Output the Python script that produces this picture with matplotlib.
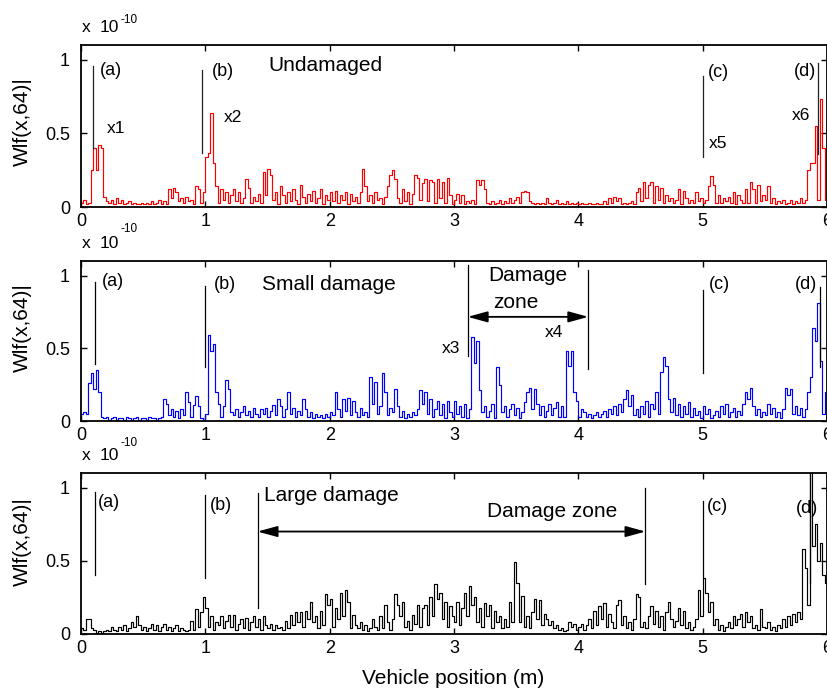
import numpy as np
import matplotlib
matplotlib.use('Agg')
import matplotlib.pyplot as plt

plt.rcParams['font.family'] = ['Liberation Sans', 'DejaVu Sans']

# ---------------- data (|Wf(x,64)| in units of 1e-10, sampled every 0.02 m) -------------
step = 0.02
undamaged = [
    0.03, 0.05, 0.02, 0.03, 0.25, 0.40, 0.25, 0.42, 0.40, 0.07, 0.04, 0.03, 0.05, 0.02, 0.06, 0.03, 0.05, 0.02, 0.03, 0.04, 0.02, 0.03, 0.02, 0.02, 0.03,
    0.02, 0.03, 0.02, 0.04, 0.02, 0.03, 0.05, 0.02, 0.04, 0.02, 0.12, 0.06, 0.13, 0.10, 0.04, 0.06, 0.03, 0.07, 0.04, 0.05, 0.02, 0.14, 0.12, 0.03, 0.10,
    0.34, 0.37, 0.64, 0.30, 0.14, 0.03, 0.12, 0.05, 0.10, 0.03, 0.08, 0.12, 0.04, 0.10, 0.03, 0.06, 0.19, 0.13, 0.03, 0.07, 0.04, 0.09, 0.03, 0.24, 0.08,
    0.26, 0.22, 0.05, 0.10, 0.02, 0.14, 0.08, 0.03, 0.10, 0.04, 0.12, 0.05, 0.02, 0.15, 0.07, 0.03, 0.09, 0.04, 0.11, 0.03, 0.06, 0.12, 0.02, 0.08, 0.05,
    0.10, 0.04, 0.11, 0.03, 0.08, 0.05, 0.10, 0.02, 0.09, 0.04, 0.07, 0.03, 0.10, 0.26, 0.14, 0.04, 0.08, 0.03, 0.10, 0.05, 0.06, 0.02, 0.07, 0.14, 0.22,
    0.25, 0.19, 0.06, 0.03, 0.12, 0.04, 0.10, 0.02, 0.09, 0.22, 0.20, 0.05, 0.16, 0.19, 0.04, 0.18, 0.17, 0.03, 0.19, 0.06, 0.17, 0.03, 0.20, 0.08, 0.02,
    0.05, 0.09, 0.03, 0.08, 0.02, 0.04, 0.03, 0.05, 0.02, 0.18, 0.15, 0.18, 0.12, 0.03, 0.02, 0.04, 0.02, 0.03, 0.05, 0.02, 0.04, 0.03, 0.06, 0.03, 0.05,
    0.07, 0.03, 0.10, 0.11, 0.10, 0.04, 0.03, 0.02, 0.03, 0.02, 0.03, 0.02, 0.06, 0.03, 0.02, 0.03, 0.05, 0.02, 0.03, 0.02, 0.04, 0.02, 0.03, 0.02, 0.03,
    0.02, 0.03, 0.02, 0.02, 0.03, 0.02, 0.02, 0.03, 0.02, 0.02, 0.04, 0.02, 0.06, 0.03, 0.07, 0.04, 0.06, 0.02, 0.03, 0.02, 0.03, 0.04, 0.02, 0.10, 0.13,
    0.04, 0.17, 0.06, 0.15, 0.17, 0.03, 0.14, 0.05, 0.13, 0.03, 0.08, 0.04, 0.06, 0.03, 0.05, 0.12, 0.02, 0.11, 0.06, 0.03, 0.05, 0.03, 0.10, 0.04, 0.06,
    0.03, 0.05, 0.14, 0.21, 0.15, 0.03, 0.08, 0.03, 0.06, 0.04, 0.07, 0.03, 0.10, 0.02, 0.08, 0.05, 0.03, 0.12, 0.03, 0.17, 0.12, 0.03, 0.15, 0.04, 0.08,
    0.05, 0.14, 0.03, 0.06, 0.02, 0.04, 0.03, 0.05, 0.02, 0.03, 0.05, 0.02, 0.04, 0.03, 0.06, 0.03, 0.05, 0.25, 0.30, 0.30, 0.55, 0.05, 0.73, 0.40, 0.05,
]
small_damage = [
    0.05, 0.06, 0.05, 0.26, 0.33, 0.22, 0.35, 0.20, 0.03, 0.02, 0.03, 0.01, 0.02, 0.03, 0.01, 0.02, 0.02, 0.01, 0.03, 0.02, 0.01, 0.02, 0.03, 0.01, 0.02,
    0.02, 0.01, 0.03, 0.02, 0.02, 0.01, 0.02, 0.03, 0.15, 0.12, 0.04, 0.08, 0.03, 0.07, 0.02, 0.08, 0.04, 0.20, 0.13, 0.03, 0.11, 0.17, 0.10, 0.02, 0.01,
    0.05, 0.59, 0.48, 0.53, 0.20, 0.12, 0.03, 0.10, 0.28, 0.22, 0.06, 0.04, 0.08, 0.03, 0.06, 0.10, 0.04, 0.07, 0.03, 0.09, 0.05, 0.03, 0.08, 0.05, 0.09,
    0.03, 0.07, 0.11, 0.04, 0.15, 0.10, 0.03, 0.08, 0.20, 0.05, 0.09, 0.03, 0.07, 0.04, 0.15, 0.08, 0.03, 0.06, 0.02, 0.05, 0.03, 0.04, 0.02, 0.05, 0.03,
    0.06, 0.04, 0.20, 0.08, 0.03, 0.15, 0.07, 0.16, 0.04, 0.14, 0.06, 0.03, 0.09, 0.04, 0.06, 0.03, 0.30, 0.12, 0.27, 0.05, 0.10, 0.33, 0.20, 0.04, 0.09,
    0.06, 0.22, 0.10, 0.03, 0.07, 0.02, 0.05, 0.03, 0.06, 0.04, 0.08, 0.21, 0.12, 0.20, 0.05, 0.15, 0.03, 0.08, 0.14, 0.04, 0.12, 0.02, 0.14, 0.06, 0.03,
    0.14, 0.05, 0.10, 0.03, 0.12, 0.02, 0.08, 0.58, 0.40, 0.55, 0.21, 0.06, 0.10, 0.03, 0.07, 0.12, 0.02, 0.37, 0.25, 0.06, 0.10, 0.03, 0.08, 0.12, 0.04,
    0.09, 0.02, 0.06, 0.13, 0.20, 0.23, 0.08, 0.22, 0.12, 0.04, 0.10, 0.03, 0.07, 0.12, 0.04, 0.09, 0.13, 0.03, 0.10, 0.03, 0.48, 0.38, 0.48, 0.20, 0.14,
    0.03, 0.08, 0.06, 0.03, 0.05, 0.02, 0.04, 0.06, 0.03, 0.05, 0.07, 0.03, 0.08, 0.05, 0.10, 0.04, 0.12, 0.06, 0.15, 0.21, 0.10, 0.18, 0.04, 0.08, 0.03,
    0.10, 0.05, 0.14, 0.03, 0.12, 0.08, 0.20, 0.05, 0.34, 0.44, 0.38, 0.15, 0.06, 0.16, 0.04, 0.12, 0.03, 0.10, 0.05, 0.13, 0.03, 0.09, 0.04, 0.07, 0.02,
    0.10, 0.05, 0.08, 0.02, 0.04, 0.07, 0.03, 0.10, 0.05, 0.12, 0.03, 0.06, 0.09, 0.03, 0.07, 0.04, 0.12, 0.20, 0.15, 0.23, 0.10, 0.04, 0.08, 0.03, 0.06,
    0.04, 0.12, 0.05, 0.09, 0.03, 0.06, 0.02, 0.08, 0.23, 0.18, 0.22, 0.05, 0.10, 0.04, 0.09, 0.03, 0.08, 0.20, 0.30, 0.64, 0.55, 0.81, 0.41, 0.05, 0.20,
]
large_damage = [
    0.04, 0.03, 0.10, 0.10, 0.04, 0.03, 0.01, 0.02, 0.01, 0.02, 0.03, 0.02, 0.05, 0.03, 0.02, 0.05, 0.03, 0.06, 0.02, 0.04, 0.08, 0.05, 0.12, 0.06, 0.03,
    0.05, 0.02, 0.04, 0.07, 0.03, 0.06, 0.02, 0.05, 0.07, 0.03, 0.05, 0.02, 0.04, 0.06, 0.02, 0.04, 0.03, 0.02, 0.03, 0.09, 0.03, 0.17, 0.05, 0.15, 0.25,
    0.18, 0.05, 0.12, 0.03, 0.08, 0.06, 0.12, 0.04, 0.09, 0.13, 0.05, 0.13, 0.03, 0.07, 0.10, 0.04, 0.11, 0.03, 0.08, 0.12, 0.05, 0.10, 0.03, 0.12, 0.06,
    0.04, 0.07, 0.03, 0.06, 0.04, 0.05, 0.03, 0.09, 0.04, 0.13, 0.06, 0.15, 0.08, 0.15, 0.05, 0.16, 0.10, 0.22, 0.08, 0.12, 0.04, 0.16, 0.06, 0.27, 0.20,
    0.24, 0.05, 0.18, 0.10, 0.28, 0.12, 0.30, 0.22, 0.04, 0.13, 0.06, 0.04, 0.08, 0.03, 0.06, 0.02, 0.04, 0.10, 0.05, 0.03, 0.12, 0.04, 0.20, 0.08, 0.03,
    0.10, 0.27, 0.20, 0.12, 0.22, 0.05, 0.09, 0.03, 0.13, 0.07, 0.20, 0.05, 0.18, 0.20, 0.06, 0.25, 0.12, 0.34, 0.24, 0.28, 0.10, 0.22, 0.05, 0.19, 0.12,
    0.08, 0.22, 0.06, 0.18, 0.28, 0.12, 0.33, 0.20, 0.25, 0.08, 0.18, 0.05, 0.21, 0.12, 0.20, 0.04, 0.16, 0.08, 0.12, 0.04, 0.10, 0.05, 0.22, 0.08, 0.49,
    0.35, 0.08, 0.26, 0.05, 0.12, 0.04, 0.15, 0.24, 0.10, 0.23, 0.06, 0.14, 0.10, 0.06, 0.09, 0.04, 0.06, 0.03, 0.04, 0.02, 0.03, 0.08, 0.05, 0.07, 0.03,
    0.05, 0.07, 0.03, 0.06, 0.10, 0.04, 0.16, 0.06, 0.19, 0.10, 0.21, 0.05, 0.14, 0.08, 0.04, 0.20, 0.23, 0.06, 0.12, 0.04, 0.08, 0.03, 0.10, 0.27, 0.25,
    0.05, 0.08, 0.04, 0.12, 0.19, 0.07, 0.16, 0.05, 0.12, 0.03, 0.15, 0.22, 0.10, 0.05, 0.09, 0.18, 0.06, 0.16, 0.04, 0.08, 0.03, 0.05, 0.10, 0.30, 0.12,
    0.38, 0.28, 0.15, 0.22, 0.06, 0.10, 0.03, 0.06, 0.02, 0.05, 0.08, 0.04, 0.12, 0.06, 0.10, 0.14, 0.05, 0.15, 0.08, 0.12, 0.04, 0.06, 0.03, 0.17, 0.05,
    0.04, 0.08, 0.03, 0.05, 0.02, 0.06, 0.04, 0.10, 0.05, 0.12, 0.06, 0.14, 0.08, 0.15, 0.10, 0.58, 0.45, 0.20, 1.30, 0.60, 0.75, 0.50, 0.62, 0.40, 0.35,
]
x_ticks = [0, 1, 2, 3, 4, 5, 6]
y_ticks = [0, 0.5, 1]
y_tick_labels = ['0', '0.5', '1']

W, H = 828, 691
fig = plt.figure(figsize=(W / 100, H / 100), dpi=100)


def px_axes(left, top, right, bottom):
    return fig.add_axes([left / W, 1 - bottom / H, (right - left) / W, (bottom - top) / H])


panels = [
    (undamaged, 'red', (81, 45, 827, 207)),
    (small_damage, '#0000ff', (81, 261, 827, 421)),
    (large_damage, 'black', (81, 473, 827, 634)),
]

axes = []
for vals, col, box in panels:
    ax = px_axes(*box)
    v = np.asarray(vals, dtype=float)
    xs = np.arange(len(v) + 1) * step
    ys = np.append(v, v[-1])
    ax.step(xs, ys, where='post', color=col, lw=0.85)
    ax.set_xlim(0, 6)
    ax.set_ylim(0, 1.1)
    ax.set_xticks(x_ticks)
    ax.set_yticks(y_ticks)
    ax.set_yticklabels(y_tick_labels)
    ax.tick_params(direction='in', top=True, right=True, length=4, width=1,
                   labelsize=13)
    ax.tick_params(axis='y', pad=8)
    ax.tick_params(axis='x', pad=4)
    for s in ax.spines.values():
        s.set_linewidth(1.3)
    axes.append(ax)

    # exponent text above each panel
    top_px = box[1]
    fig.text(82 / W, 1 - (top_px - 13) / H, 'x', fontsize=12.5, va='baseline', ha='left')
    fig.text(100 / W, 1 - (top_px - 13) / H, '10', fontsize=12.5, va='baseline', ha='left')

fig.text(121 / W, 1 - 23 / H, '-10', fontsize=8.5, va='baseline', ha='left')
fig.text(121 / W, 1 - 232 / H, '-10', fontsize=8.5, va='baseline', ha='left')
fig.text(121 / W, 1 - 446 / H, '-10', fontsize=8.5, va='baseline', ha='left')

# y labels
for yc in (122, 328, 542):
    fig.text(22 / W, 1 - yc / H, 'Wlf(x,64)|', rotation=90, fontsize=15,
             ha='center', va='center')
fig.text(453 / W, 1 - 679 / H, 'Vehicle position (m)', fontsize=15,
         ha='center', va='center')

LW = 0.9
TS = 13
arrow_style = '<|-|>,head_length=0.8,head_width=0.22'

# panel 1
ax = axes[0]
for xv, y0, y1 in [(0.094, 0.40, 0.955), (0.976, 0.37, 0.93), (5.0, 0.34, 0.89), (5.93, 0.36, 0.98)]:
    ax.plot([xv, xv], [y0, y1], color='#222222', lw=LW)
ax.text(0.15, 0.93, '(a)', fontsize=TS, ha='left', va='center')
ax.text(1.05, 0.92, '(b)', fontsize=TS, ha='left', va='center')
ax.text(1.51, 0.96, 'Undamaged', fontsize=15, ha='left', va='center')
ax.text(0.21, 0.53, 'x1', fontsize=12.5, ha='left', va='center')
ax.text(1.145, 0.61, 'x2', fontsize=12.5, ha='left', va='center')
ax.text(5.04, 0.91, '(c)', fontsize=TS, ha='left', va='center')
ax.text(5.05, 0.43, 'x5', fontsize=12.5, ha='left', va='center')
ax.text(5.825, 0.92, '(d)', fontsize=TS, ha='center', va='center')
ax.text(5.72, 0.62, 'x6', fontsize=12.5, ha='left', va='center')

# panel 2
ax = axes[1]
for xv, y0, y1 in [(0.11, 0.39, 0.955), (0.995, 0.37, 0.93), (3.11, 0.45, 1.07),
                   (4.08, 0.36, 1.04), (5.0, 0.33, 0.90), (5.945, 0.37, 0.92)]:
    ax.plot([xv, xv], [y0, y1], color='black', lw=LW)
ax.annotate('', xy=(3.11, 0.716), xytext=(4.08, 0.716),
            arrowprops=dict(arrowstyle=arrow_style, color='black', lw=1.3,
                            mutation_scale=15, shrinkA=0, shrinkB=0))
ax.text(0.17, 0.96, '(a)', fontsize=TS, ha='left', va='center')
ax.text(1.07, 0.94, '(b)', fontsize=TS, ha='left', va='center')
ax.text(1.455, 0.94, 'Small damage', fontsize=15, ha='left', va='center')
ax.text(3.59, 1.0, 'Damage', fontsize=15, ha='center', va='center')
ax.text(3.50, 0.816, 'zone', fontsize=15, ha='center', va='center')
ax.text(3.05, 0.50, 'x3', fontsize=12.5, ha='right', va='center')
ax.text(3.73, 0.61, 'x4', fontsize=12.5, ha='left', va='center')
ax.text(5.05, 0.937, '(c)', fontsize=TS, ha='left', va='center')
ax.text(5.83, 0.937, '(d)', fontsize=TS, ha='center', va='center')

# panel 3
ax = axes[2]
for xv, y0, y1 in [(0.11, 0.40, 0.97), (0.995, 0.38, 0.95), (1.42, 0.18, 0.96),
                   (4.54, 0.34, 1.00), (5.0, 0.39, 0.91), (5.86, 0.35, 1.1)]:
    ax.plot([xv, xv], [y0, y1], color='black', lw=LW)
ax.annotate('', xy=(1.42, 0.70), xytext=(4.54, 0.70),
            arrowprops=dict(arrowstyle=arrow_style, color='black', lw=1.3,
                            mutation_scale=15, shrinkA=0, shrinkB=0))
ax.text(0.135, 0.90, '(a)', fontsize=TS, ha='left', va='center')
ax.text(1.04, 0.88, '(b)', fontsize=TS, ha='left', va='center')
ax.text(1.47, 0.945, 'Large damage', fontsize=15, ha='left', va='center')
ax.text(3.79, 0.84, 'Damage zone', fontsize=15, ha='center', va='center')
ax.text(5.03, 0.87, '(c)', fontsize=TS, ha='left', va='center')
ax.text(5.84, 0.86, '(d)', fontsize=TS, ha='center', va='center')

fig.savefig('out.png', dpi=100)
